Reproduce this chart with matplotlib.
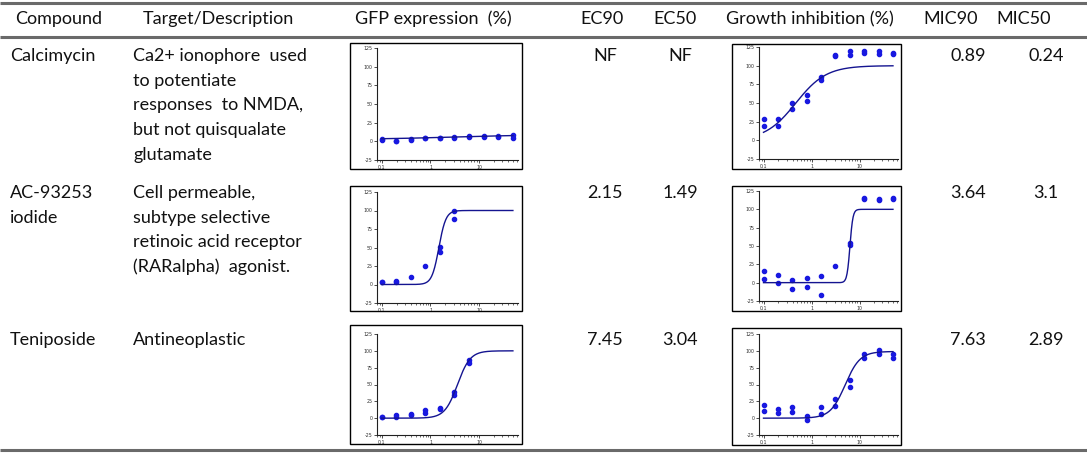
import numpy as np
import matplotlib
matplotlib.use("Agg")
import matplotlib.pyplot as plt
from matplotlib.patches import Rectangle
from matplotlib.ticker import FixedLocator, NullFormatter

W, H = 1087, 453
FONT = "Lato"

headers = ["Compound", "Target/Description", "GFP expression  (%)", "EC90", "EC50",
           "Growth inhibition (%)", "MIC90", "MIC50"]
compounds = [["Calcimycin"], ["AC-93253", "iodide"], ["Teniposide"]]
descriptions = [
    ["Ca2+ ionophore  used", "to potentiate", "responses  to NMDA,", "but not quisqualate", "glutamate"],
    ["Cell permeable,", "subtype selective", "retinoic acid receptor", "(RARalpha)  agonist."],
    ["Antineoplastic"],
]
ec90 = ["NF", "2.15", "7.45"]
ec50 = ["NF", "1.49", "3.04"]
mic90 = ["0.89", "3.64", "7.63"]
mic50 = ["0.24", "3.1", "2.89"]

conc = [0.098, 0.195, 0.39, 0.78, 1.56, 3.125, 6.25, 12.5, 25, 50]

# replicate responses (%) per concentration
gfp_rep1 = [
    [2, 0.5, 3, 4, 4, 6, 7, 6.5, 6, 8.5],
    [4, 5, 10, 25, 51, 99],
    [2.4, 4, 6, 12, 14.5, 38.5, 87],
]
gfp_rep2 = [
    [2.5, 0, 2, 4.5, 4, 5, 5.5, 6, 6.5, 5],
    [3, 3, np.nan, np.nan, 44, 88],
    [1.5, 2, 4.5, 8, 13, 34, 82],
]
growth_rep1 = [
    [28.5, 29, 50, 61, 85, 113, 119, 120, 119, 117],
    [16, 10, 4, 6, 9, 23, 54, 115, 114, 116],
    [20, 13, 17, 3, 16, 28, 56, 96, 101, 96],
]
growth_rep2 = [
    [19, 19, 42, 53, 81, 114, 114, 117, 115, 115],
    [4.5, -1, -8, -6, -17, np.nan, 52, 114, 113, 114],
    [11, 7, 9, -2, 6, 18, 47, 90, 95, 90],
]
# fitted dose-response parameters: bottom, top, midpoint, hill slope
gfp_fit = [(2.5, 9, 3.0, 0.5), (0, 100, 1.49, 6.0), (0, 100, 3.6, 3.3)]
growth_fit = [(0, 100, 0.465, 1.36), (0, 100, 6.3, 14.0), (0, 99, 5.0, 2.8)]

yticks = [-25, 0, 25, 50, 75, 100, 125]

fig = plt.figure(figsize=(W / 100, H / 100), dpi=100)
base = fig.add_axes([0, 0, 1, 1])
base.set_xlim(0, W)
base.set_ylim(H, 0)
base.axis("off")

TXT = "#111111"
LINE = "#6a6a6a"
for y in (3, 37, 450):
    base.plot([0, W], [y, y], color=LINE, lw=2.2, solid_capstyle="butt")

fs = 13
hdr_x = [15, 143, 433, 602, 675, 810, 951, 1024]
hdr_ha = ["left", "left", "center", "center", "center", "center", "center", "center"]
for t, x, ha in zip(headers, hdr_x, hdr_ha):
    base.text(x, 19, t, ha=ha, va="center", fontsize=fs, family=FONT, color=TXT)

row_y = [56, 193, 340]
LS = 24.7
for i in range(3):
    y0 = row_y[i]
    for j, line in enumerate(compounds[i]):
        base.text(10, y0 + j * LS, line, ha="left", va="center", fontsize=fs, family=FONT, color=TXT)
    for j, line in enumerate(descriptions[i]):
        base.text(133, y0 + j * LS, line, ha="left", va="center", fontsize=fs, family=FONT, color=TXT)
    for val, x in zip([ec90[i], ec50[i], mic90[i], mic50[i]], [605, 680, 968, 1046]):
        base.text(x, y0, val, ha="center", va="center", fontsize=fs, family=FONT, color=TXT)

# frames (px): left, top, right, bottom
gfp_frames = [(349.5, 43, 521.5, 169), (349.5, 186, 521.5, 311), (349.5, 325, 521.5, 444)]
growth_frames = [(732, 44, 901, 169), (732, 186, 901, 311), (732, 328, 901, 445)]
# inner axes (px): left, top(125), right, bottom(-25)
gfp_axes = [(377, 48, 518, 160), (377, 192, 518, 303), (377, 334, 518, 435)]
growth_axes = [(759, 47, 898, 159), (759, 191, 898, 301), (759, 334, 898, 435)]

PT = "#1818e0"
CV = "#141490"


def hill(x, b, t, m, h):
    return b + (t - b) / (1 + (m / x) ** h)


def mini(frame, box, c, r1, r2, fit):
    l, t, r, b = frame
    fig.patches.append(Rectangle((l / W, 1 - b / H), (r - l) / W, (b - t) / H,
                                 transform=fig.transFigure, fill=False,
                                 edgecolor="black", lw=1.0))
    al, at, ar, ab = box
    ax = fig.add_axes([al / W, 1 - ab / H, (ar - al) / W, (ab - at) / H])
    ax.set_xscale("log")
    ax.set_xlim(0.0789, 63.7)
    ax.set_ylim(-25, 125)
    ax.patch.set_alpha(0)
    for s in ("top", "right"):
        ax.spines[s].set_visible(False)
    for s in ("left", "bottom"):
        ax.spines[s].set_linewidth(0.8)
        ax.spines[s].set_color("#202020")
    ax.yaxis.set_major_locator(FixedLocator(yticks))
    ax.set_yticklabels([str(v) for v in yticks])
    ax.xaxis.set_major_locator(FixedLocator([0.1, 1, 10]))
    ax.set_xticklabels(["0.1", "1", "10"])
    minors = [k * 10.0 ** e for e in (-2, -1, 0, 1) for k in range(2, 10)]
    ax.xaxis.set_minor_locator(FixedLocator(minors))
    ax.xaxis.set_minor_formatter(NullFormatter())
    ax.tick_params(axis="both", which="major", labelsize=3.4, length=2.2, width=0.6,
                   pad=1.2, colors="#303030")
    ax.tick_params(axis="x", which="minor", length=1.6, width=0.5, colors="#303030")
    cc = np.array(c[:len(r1)])
    ax.plot(cc, r1, "o", ms=3.0, color=PT, mec=PT, clip_on=False)
    ax.plot(cc, r2, "o", ms=3.0, color=PT, mec=PT, clip_on=False)
    xs = np.logspace(np.log10(0.098), np.log10(50), 300)
    ax.plot(xs, hill(xs, *fit), color=CV, lw=1.0)


for i in range(3):
    mini(gfp_frames[i], gfp_axes[i], conc, gfp_rep1[i], gfp_rep2[i], gfp_fit[i])
    mini(growth_frames[i], growth_axes[i], conc, growth_rep1[i], growth_rep2[i], growth_fit[i])

fig.savefig("out.png", dpi=100)
